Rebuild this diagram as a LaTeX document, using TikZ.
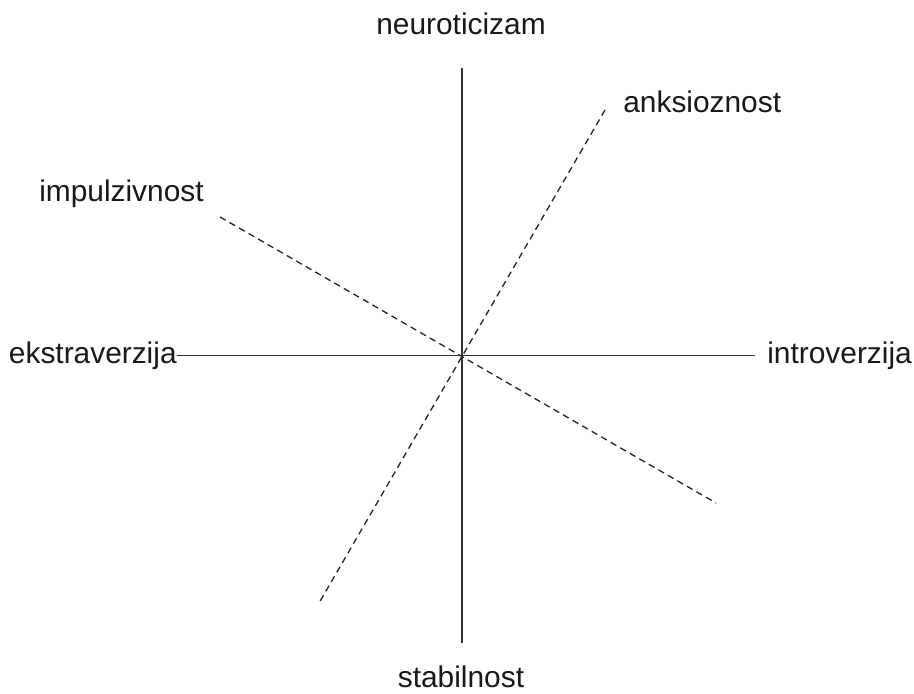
\documentclass[tikz,border=0pt]{standalone}
\usepackage{fontspec}
\setmainfont{Liberation Sans}
\usepackage{tikz}
\usetikzlibrary{positioning}

\begin{document}
\begin{tikzpicture}[
    font=\fontsize{17}{20}\selectfont,
    lbl/.style={inner sep=0pt, text=black!90},
    os/.style={black!80, line width=0.6pt},
    crta/.style={black!85, line width=0.75pt, dash pattern=on 0.13cm off 0.09cm}
  ]
    \useasboundingbox (-9.24,-6.74) rectangle (9.04,7.12);
    \coordinate (c) at (0,0);
    \coordinate (gore) at (0,5.76);
    \coordinate (dolje) at (0,-5.74);
    \coordinate (a1) at (2.86,4.92);
    \coordinate (a2) at (-2.86,-4.94);
    \coordinate (i1) at (-4.84,2.78);
    \coordinate (i2) at (5.08,-2.94);
    \node[lbl, anchor=base east] (eks) at (-5.70,-0.14) {ekstraverzija};
    \node[lbl, anchor=base west] (int) at (6.10,-0.14) {introverzija};
    \node[lbl, anchor=base] (neu) at (-0.02,6.42) {neuroticizam};
    \node[lbl, anchor=base] (sta) at (-0.02,-6.62) {stabilnost};
    \node[lbl, anchor=base west] (ank) at (3.22,4.86) {anksioznost};
    \node[lbl, anchor=base east] (imp) at (-5.16,3.08) {impulzivnost};
    \draw[os, shorten >=0.24cm] (eks.east) -- (eks.east -| int.west);
    \draw[os] (gore) -- (dolje);
    \draw[crta] (a1) -- (a2);
    \draw[crta] (i1) -- (i2);
  \end{tikzpicture}
\end{document}
